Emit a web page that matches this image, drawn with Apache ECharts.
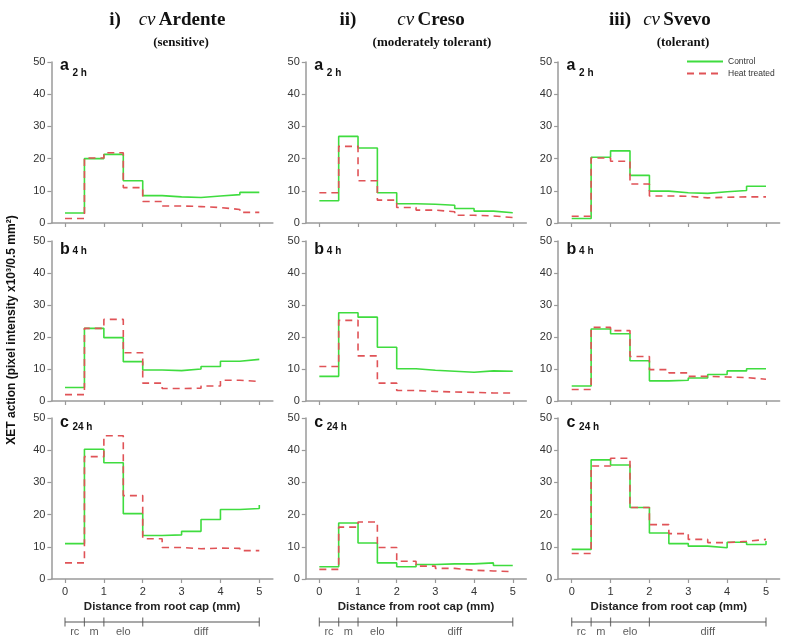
<!DOCTYPE html>
<html><head><meta charset="utf-8">
<script src="https://cdn.jsdelivr.net/npm/echarts@6/dist/echarts.min.js"></script>
<style>html,body{margin:0;padding:0;background:#fff}#c{width:787px;height:640px}</style>
</head><body><div id="c"></div>
<script>
// ---- data ----
const distances = [0, 0.5, 1, 1.5, 2, 2.5, 3, 3.5, 4, 4.5, 5];
const xTicks = [0, 1, 2, 3, 4, 5];
const yTicks = [0, 10, 20, 30, 40, 50];
const cultivars = ['Ardente', 'Creso', 'Svevo'];
const cultivarNumerals = ['i)', 'ii)', 'iii)'];
const tolerances = ['(sensitive)', '(moderately tolerant)', '(tolerant)'];
const panelLetters = ['a', 'b', 'c'];
const timePoints = ['2 h', '4 h', '24 h'];
const seriesNames = ['Control', 'Heat treated'];
const zoneNames = ['rc', 'm', 'elo', 'diff'];
const zoneCenters = [0.25, 0.75, 1.5, 3.5];
const zoneBounds = [0, 0.5, 1, 2, 5];

const ardenteControl2h = [3.1, 20.0, 21.3, 13.1, 8.5, 8.1, 7.9, 8.4, 8.8, 9.5, 9.5];
const ardenteHeat2h    = [1.4, 20.2, 21.8, 11.0, 6.7, 5.3, 5.1, 4.8, 4.2, 3.3, 3.3];
const cresoControl2h   = [6.9, 26.9, 23.3, 9.4, 6.0, 5.8, 5.5, 4.5, 3.7, 3.2, 3.2];
const cresoHeat2h      = [9.4, 23.8, 13.1, 7.1, 4.8, 4.0, 3.5, 2.4, 2.2, 1.7, 1.7];
const svevoControl2h   = [1.4, 20.4, 22.4, 14.8, 9.9, 9.4, 9.2, 9.7, 10.1, 11.4, 11.4];
const svevoHeat2h      = [2.1, 20.2, 19.2, 12.1, 8.4, 8.3, 7.8, 8.0, 8.1, 8.1, 8.1];

const ardenteControl4h = [4.2, 22.7, 19.8, 12.3, 9.7, 9.5, 10.0, 10.8, 12.4, 13.0, 13.0];
const ardenteHeat4h    = [2.0, 22.7, 25.5, 15.1, 5.6, 3.9, 4.0, 4.7, 6.5, 6.1, 6.1];
const cresoControl4h   = [7.7, 27.6, 26.2, 16.8, 10.1, 9.6, 9.3, 9.0, 9.4, 9.3, 9.3];
const cresoHeat4h      = [10.8, 25.2, 14.1, 5.6, 3.3, 3.0, 2.8, 2.7, 2.5, 2.5, 2.5];
const svevoControl4h   = [4.7, 22.5, 21.0, 12.6, 6.3, 6.5, 7.2, 8.3, 9.4, 10.1, 10.1];
const svevoHeat4h      = [3.6, 23.0, 22.0, 13.9, 9.8, 8.8, 7.7, 7.5, 7.3, 6.8, 6.8];

const ardenteControl24h = [11.0, 40.3, 36.1, 20.3, 13.5, 13.7, 14.8, 18.5, 21.6, 21.9, 23.0];
const ardenteHeat24h    = [5.0, 38.0, 44.5, 25.9, 12.5, 9.8, 9.4, 9.6, 9.5, 8.8, 8.8];
const cresoControl24h   = [3.8, 17.4, 11.2, 5.0, 3.8, 4.5, 4.7, 4.7, 5.0, 4.2, 4.2];
const cresoHeat24h      = [3.0, 16.1, 17.7, 9.8, 5.5, 4.0, 3.3, 2.7, 2.5, 2.3, 2.3];
const svevoControl24h   = [9.2, 37.0, 35.4, 22.2, 14.3, 11.0, 10.2, 9.7, 11.4, 10.7, 11.8];
const svevoHeat24h      = [7.9, 35.1, 37.5, 22.2, 16.9, 14.1, 12.3, 11.3, 11.7, 12.3, 12.3];

// panels[row][col] = [control, heat]
const panels = [
  [[ardenteControl2h, ardenteHeat2h], [cresoControl2h, cresoHeat2h], [svevoControl2h, svevoHeat2h]],
  [[ardenteControl4h, ardenteHeat4h], [cresoControl4h, cresoHeat4h], [svevoControl4h, svevoHeat4h]],
  [[ardenteControl24h, ardenteHeat24h], [cresoControl24h, cresoHeat24h], [svevoControl24h, svevoHeat24h]]
];

// ---- layout ----
const X_MIN = -0.35, X_MAX = 5.35;
const colLeft = [51.4, 305.8, 558.1];
const colWidth = [221.5, 220.5, 221.5];
const rowTop = [62, 241, 418];
const rowHeight = [161, 160, 161];
const letterDy = [[4, 11], [9, 10], [5, 9]];
const GREEN = '#3fdc3f', RED = '#e05357', AXIS = '#9a9a9a', TXT = '#333';
const SANS = 'Liberation Sans', SERIF = 'Liberation Serif';

const grids = [], xAxes = [], yAxes = [], series = [], graphics = [];
let gi = 0;
for (let r = 0; r < 3; r++) {
  for (let c = 0; c < 3; c++) {
    grids.push({left: colLeft[c], top: rowTop[r], width: colWidth[c], height: rowHeight[r], containLabel: false});
    const bottomRow = r === 2;
    xAxes.push({
      gridIndex: gi, type: 'value', min: X_MIN, max: X_MAX,
      axisLine: {show: true, onZero: false, lineStyle: {color: AXIS, width: 1.5}},
      axisTick: {show: true, length: 4, customValues: xTicks, lineStyle: {color: AXIS, width: 1.2}},
      axisLabel: {show: bottomRow, customValues: xTicks, margin: 7, color: TXT, fontFamily: SANS, fontSize: 11},
      splitLine: {show: false},
      name: bottomRow ? 'Distance from root cap (mm)' : '',
      nameLocation: 'middle', nameGap: 22,
      nameTextStyle: {fontFamily: SANS, fontWeight: 'bold', fontSize: 11.5, color: '#222'}
    });
    yAxes.push({
      gridIndex: gi, type: 'value', min: 0, max: 50, interval: 10,
      axisLine: {show: true, onZero: false, lineStyle: {color: AXIS, width: 1.5}},
      axisTick: {show: true, length: 4, lineStyle: {color: AXIS, width: 1.2}},
      axisLabel: {margin: 6, color: TXT, fontFamily: SANS, fontSize: 11},
      splitLine: {show: false}
    });
    const [ctrl, heat] = panels[r][c];
    series.push({
      name: seriesNames[0], type: 'line', step: 'end', xAxisIndex: gi, yAxisIndex: gi,
      symbol: 'none', silent: true, z: 3,
      lineStyle: {color: GREEN, width: 1.6, type: 'solid'}, itemStyle: {color: GREEN},
      data: distances.map((d, i) => [d, ctrl[i]])
    });
    series.push({
      name: seriesNames[1], type: 'line', step: 'end', xAxisIndex: gi, yAxisIndex: gi,
      symbol: 'none', silent: true, z: 4,
      lineStyle: {color: RED, width: 1.6, type: [7, 5]}, itemStyle: {color: RED},
      data: distances.map((d, i) => [d, heat[i]])
    });
    // panel letters
    graphics.push({type: 'text', x: colLeft[c] + 8.5, y: rowTop[r] + letterDy[r][0],
      style: {text: panelLetters[r], font: 'bold 16px ' + SANS, fill: '#111', verticalAlign: 'middle', align: 'left'}});
    graphics.push({type: 'text', x: colLeft[c] + 21, y: rowTop[r] + letterDy[r][1],
      style: {text: timePoints[r], font: 'bold 10px ' + SANS, fill: '#111', verticalAlign: 'middle', align: 'left'}});
    gi++;
  }
}
// zone bars (one hidden grid per column)
for (let c = 0; c < 3; c++) {
  grids.push({left: colLeft[c], top: 612, width: colWidth[c], height: 20, containLabel: false});
  xAxes.push({gridIndex: gi, type: 'value', min: X_MIN, max: X_MAX, show: false});
  yAxes.push({gridIndex: gi, type: 'value', min: -1, max: 1, show: false});
  series.push({type: 'line', xAxisIndex: gi, yAxisIndex: gi, symbol: 'none', silent: true,
    lineStyle: {color: '#555', width: 1.2}, data: [[zoneBounds[0], 0], [zoneBounds[zoneBounds.length - 1], 0]]});
  series.push({type: 'scatter', xAxisIndex: gi, yAxisIndex: gi, silent: true,
    symbol: 'rect', symbolSize: [1.2, 9], itemStyle: {color: '#555'},
    data: zoneBounds.map(b => [b, 0])});
  series.push({type: 'scatter', xAxisIndex: gi, yAxisIndex: gi, silent: true, symbolSize: 0,
    label: {show: true, position: 'inside', formatter: p => zoneNames[p.dataIndex],
      color: TXT, fontFamily: SANS, fontSize: 11},
    data: zoneCenters.map(z => [z, -0.95])});
  gi++;
}
// titles
const titleX = [[115, 182, 181], [348, 431, 432], [620, 677, 683]];
for (let c = 0; c < 3; c++) {
  graphics.push({type: 'text', x: titleX[c][0], y: 20,
    style: {text: cultivarNumerals[c], font: 'bold 19px ' + SERIF, fill: '#111', align: 'center', verticalAlign: 'middle'}});
  graphics.push({type: 'text', x: titleX[c][1], y: 20,
    style: {text: '{i|cv} {b|' + cultivars[c] + '}', align: 'center', verticalAlign: 'middle',
      rich: {i: {fontFamily: SERIF, fontStyle: 'italic', fontSize: 19, fill: '#111', color: '#111'},
             b: {fontFamily: SERIF, fontWeight: 'bold', fontSize: 19, fill: '#111', color: '#111'}}}});
  graphics.push({type: 'text', x: titleX[c][2], y: 43,
    style: {text: tolerances[c], font: 'bold 13px ' + SERIF, fill: '#111', align: 'center', verticalAlign: 'middle'}});
}
// y axis title
graphics.push({type: 'text', x: 12, y: 330, rotation: Math.PI / 2,
  style: {text: 'XET action (pixel intensity x10³/0.5 mm²)', font: 'bold 12px ' + SANS, fill: '#111',
    align: 'center', verticalAlign: 'middle'}});

const chart = echarts.init(document.getElementById('c'), null, {renderer: 'canvas'});
chart.setOption({
  animation: false,
  backgroundColor: '#fff',
  grid: grids, xAxis: xAxes, yAxis: yAxes, series: series,
  legend: {data: seriesNames, orient: 'vertical', left: 686, top: 57, padding: 0,
    itemWidth: 36, itemHeight: 8, itemGap: 3,
    itemStyle: {opacity: 0},
    textStyle: {fontFamily: SANS, fontSize: 8.5, color: TXT}, selectedMode: false},
  graphic: graphics
});
</script></body></html>
